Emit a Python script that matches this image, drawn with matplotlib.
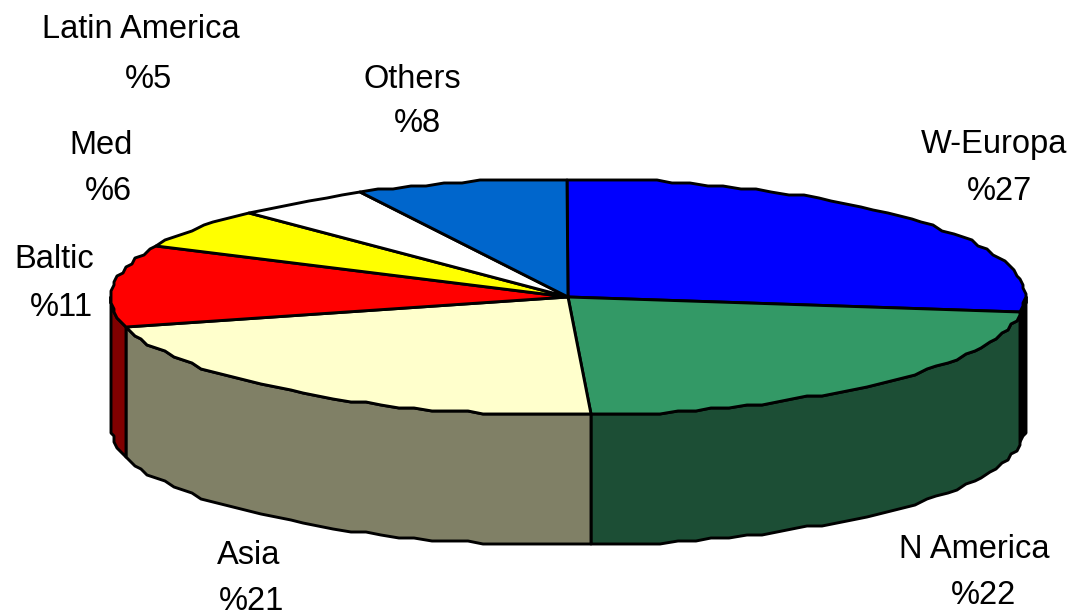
import numpy as np
import matplotlib
matplotlib.use("Agg")
import matplotlib.pyplot as plt
from matplotlib.patches import Polygon

plt.rcParams['font.family'] = ['Liberation Sans', 'DejaVu Sans']

labels = ["W-Europa", "N America", "Asia", "Baltic", "Med", "Latin America", "Others"]
pct_labels = ["%27", "%22", "%21", "%11", "%6", "%5", "%8"]
# slice sizes as measured on the picture, the printed labels are rounded
shares = [27.0, 22.2, 21.8, 11.2, 5.5, 4.8, 7.5]
top_colors = ["#0000FF", "#339966", "#FFFFCC", "#FF0000", "#FFFF00", "#FFFFFF", "#0066CC"]
side_colors = ["#000000", "#1C4E35", "#808066", "#800000", "#808000", "#808080", "#003366"]
name_x = [994, 974, 249, 54, 101, 141, 412]
name_y = [145, 549, 555, 260, 145, 29, 79]
pct_x = [1000, 983, 252, 61, 108, 149, 417]
pct_y = [191, 596, 601, 308, 191, 80, 124]

CX, CY = 568, 297
RX, RY = 457, 118
DEPTH = 130
LW = 2.1
GRID = 3.0


def rim_pts(a_from, a_to, dy=0):
    """points on the rim, angles in degrees, snapped to a coarse grid like the old renderer"""
    n = max(2, int(abs(a_to - a_from) / 2.2) + 1)
    t = np.radians(np.linspace(a_from, a_to, n))
    x = CX + RX * np.cos(t)
    y = CY - RY * np.sin(t)
    return np.column_stack((np.round(x / GRID) * GRID, np.round(y / GRID) * GRID + dy))


fig = plt.figure(figsize=(10.72, 6.16), dpi=100)
ax = fig.add_axes([0, 0, 1, 1])
ax.set_xlim(0, 1072)
ax.set_ylim(616, 0)
ax.axis("off")

# walls first, only the front half of the rim can be seen
start = 90.0
for val, side in zip(shares, side_colors):
    end = start - val * 3.6
    a1, a2 = min(start, 0), max(end, -180)
    if a1 > a2:
        upper = rim_pts(a1, a2)
        lower = rim_pts(a2, a1, DEPTH)
        ax.add_patch(Polygon(np.vstack((upper, lower)), closed=True, facecolor=side,
                             edgecolor="black", lw=LW, joinstyle="round", zorder=2))
    start = end

# top of the pie
start = 90.0
for val, top in zip(shares, top_colors):
    end = start - val * 3.6
    pts = np.vstack(([[CX, CY]], rim_pts(start, end)))
    ax.add_patch(Polygon(pts, closed=True, facecolor=top, edgecolor="black",
                         lw=LW, joinstyle="round", zorder=3))
    start = end

for name, x, y in zip(labels, name_x, name_y):
    ax.text(x, y, name, ha="center", va="center", fontsize=23.5, color="black", zorder=4)
for pct, x, y in zip(pct_labels, pct_x, pct_y):
    ax.text(x, y, pct, ha="center", va="center", fontsize=23.5, color="black", zorder=4)

fig.savefig("out.png", dpi=100)
